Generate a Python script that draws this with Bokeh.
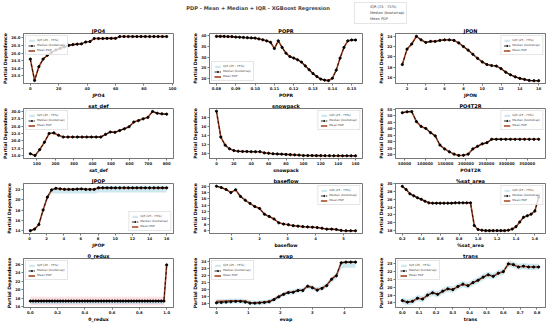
import numpy as np
from bokeh.plotting import figure
from bokeh.layouts import GridBox
from bokeh.models import (Legend, LegendItem, Label, Range1d, FixedTicker,
                          PrintfTickFormatter)
from bokeh.embed import file_html
from bokeh.resources import INLINE

FONT = "DejaVu Sans"
MEAN_COLOR = "#a3421f"
BLUE = "#add8e6"
PINK = "#f7bcc8"
FRAME = "#777777"

MAIN_TITLE = "PDP - Mean + Median + IQR - XGBoost Regression"
LEG_LABELS = ["IQR (25 - 75%)", "Median (bootstrap)", "Mean PDP"]

# ---------------- data ----------------
jpo4_x = np.linspace(0, 96, 33)
jpo4_mean = [24.6, 23.2, 24.1, 24.6, 24.85, 25.05, 25.2, 25.3, 25.4, 25.5, 25.55,
             25.58, 25.6, 25.72, 25.75, 25.95, 25.95, 25.95, 25.96, 25.96, 25.96,
             26.08, 26.08, 26.08, 26.08, 26.08, 26.08, 26.08, 26.08, 26.08, 26.08,
             26.08, 26.08]
jpo4_xticks = [0, 20, 40, 60, 80, 100]
jpo4_yticks = [23.0, 23.5, 24.0, 24.5, 25.0, 25.5, 26.0]

popr_x = np.linspace(0.080, 0.152, 37)
popr_mean = [39.7, 39.7, 39.7, 39.6, 39.6, 39.4, 39.3, 39.2, 39.1, 39.0, 38.9,
             38.5, 38.1, 37.6, 36.9, 34.0, 37.6, 34.5, 31.8, 30.2, 29.5, 28.7,
             27.6, 25.8, 24.0, 22.2, 20.8, 19.6, 19.1, 18.9, 20.0, 23.8, 29.5,
             34.5, 37.6, 38.0, 38.0]
popr_xticks = [0.08, 0.09, 0.10, 0.11, 0.12, 0.13, 0.14, 0.15]
popr_yticks = [20, 25, 30, 35, 40]

jpon_x = np.linspace(1.5, 16.0, 30)
jpon_mean = [18.5, 21.5, 22.5, 24.0, 23.3, 22.8, 23.0, 23.0, 23.2, 23.3, 23.3,
             23.2, 22.7, 22.0, 21.3, 20.5, 19.7, 19.0, 18.5, 18.3, 18.2, 17.7,
             17.0, 16.5, 16.1, 15.8, 15.6, 15.4, 15.35, 15.35]
jpon_xticks = [2, 4, 6, 8, 10, 12, 14, 16]
jpon_yticks = [14, 16, 18, 20, 22, 24]

satdef_x = np.linspace(65, 800, 30)
satdef_mean = [15.6, 15.0, 17.0, 19.5, 22.5, 22.7, 21.9, 21.3, 21.3, 21.3, 21.3,
               21.3, 21.3, 21.3, 21.3, 21.3, 22.2, 23.0, 22.9, 23.5, 24.1, 24.8,
               26.4, 26.9, 27.5, 28.0, 30.0, 29.4, 29.2, 29.1]
satdef_xticks = [100, 200, 300, 400, 500, 600, 700, 800]
satdef_yticks = [15.0, 17.5, 20.0, 22.5, 25.0, 27.5, 30.0]

snow_x = np.linspace(0, 160, 33)
snow_mean = [19.3, 13.6, 11.8, 11.0, 10.6, 10.45, 10.4, 10.4, 10.35, 10.35, 10.35,
             10.1, 10.0, 9.9, 9.85, 9.8, 9.75, 9.7, 9.65, 9.6, 9.5, 9.5, 9.5,
             9.48, 9.48, 9.47, 9.47, 9.46, 9.46, 9.45, 9.45, 9.45, 9.45]
snow_xticks = [0, 20, 40, 60, 80, 100, 120, 140, 160]
snow_yticks = [10, 12, 14, 16, 18, 20]

po4_x = np.linspace(44400, 378000, 30)
po4_mean = [52.3, 53.0, 53.2, 45.5, 41.8, 40.2, 37.0, 34.5, 27.5, 24.5, 22.3,
            20.5, 19.5, 19.6, 20.5, 24.5, 26.5, 28.4, 29.3, 31.9, 31.9, 31.9,
            31.9, 31.9, 31.9, 31.9, 31.9, 31.9, 31.9, 31.9]
po4_xticks = [50000, 100000, 150000, 200000, 250000, 300000, 350000]
po4_yticks = [20, 25, 30, 35, 40, 45, 50, 55]

jpop_x = np.linspace(0.1, 16.0, 33)
jpop_mean = [14.0, 14.3, 15.2, 18.0, 20.5, 21.9, 22.2, 22.1, 22.0, 22.0, 22.0,
             22.05, 22.1, 22.0, 22.0, 22.0, 22.3, 22.3, 22.3, 22.3, 22.3, 22.3,
             22.3, 22.3, 22.3, 22.3, 22.3, 22.3, 22.3, 22.3, 22.3, 22.3, 22.3]
jpop_iqr_lo = [13.9, 14.2, 15.0, 17.6, 20.0, 21.2, 21.2, 21.2, 21.2, 21.2, 21.2,
               21.2, 21.2, 21.2, 21.2, 21.2, 21.4, 21.4, 21.4, 21.4, 21.4, 21.4,
               21.4, 21.4, 21.4, 21.4, 21.4, 21.4, 21.4, 21.4, 21.4, 21.4, 21.4]
jpop_iqr_hi = [14.1, 14.4, 15.4, 18.4, 20.9, 22.2, 22.4, 22.3, 22.2, 22.2, 22.2,
               22.3, 22.3, 22.2, 22.2, 22.2, 22.7, 22.7, 22.7, 22.7, 22.7, 22.7,
               22.7, 22.7, 22.7, 22.7, 22.7, 22.7, 22.7, 22.7, 22.7, 22.7, 22.7]
jpop_xticks = [0, 2, 4, 6, 8, 10, 12, 14, 16]
jpop_yticks = [14, 16, 18, 20, 22]

base_x = np.linspace(0.46, 5.43, 30)
base_mean = [20.0, 19.6, 19.0, 18.0, 18.9, 16.8, 15.6, 14.6, 13.6, 13.0, 11.2,
             10.5, 9.7, 8.5, 8.1, 7.9, 7.6, 7.45, 7.3, 7.2, 7.1, 7.0, 6.8, 6.5,
             6.5, 6.4, 6.1, 6.0, 6.0, 6.0]
base_xticks = [1, 2, 3, 4, 5]
base_yticks = [6, 8, 10, 12, 14, 16, 18, 20]

sat_x = np.linspace(0.20, 1.64, 37)
sat_mean = [29.3, 28.5, 27.4, 26.9, 26.4, 26.0, 25.5, 25.1, 25.0, 25.0, 25.0,
            25.0, 25.0, 25.0, 25.1, 25.1, 25.1, 25.1, 25.1, 19.3, 18.3, 18.1,
            18.0, 18.0, 18.0, 18.0, 18.0, 18.0, 18.1, 18.4, 19.0, 20.2, 21.4,
            21.8, 22.2, 23.0, 26.5]
sat_xticks = [0.2, 0.4, 0.6, 0.8, 1.0, 1.2, 1.4, 1.6]
sat_yticks = [18, 20, 22, 24, 26, 28, 30]

redux_x = np.linspace(0.0, 1.0, 51)
redux_mean = [17.3] * 50 + [25.8]
redux_iqr_lo = [16.6] * 50 + [25.8]
redux_iqr_hi = [17.3] * 50 + [25.8]
redux_xticks = [0.0, 0.2, 0.4, 0.6, 0.8, 1.0]
redux_yticks = [16, 18, 20, 22, 24, 26]

evap_x = np.linspace(0.0, 4.35, 30)
evap_mean = [18.3, 18.3, 18.35, 18.4, 18.4, 18.4, 18.35, 18.15, 18.1, 18.15, 18.2,
             18.3, 18.6, 19.0, 19.35, 19.6, 19.65, 19.9, 19.9, 20.5, 20.3, 19.95,
             20.2, 20.6, 21.5, 22.0, 23.8, 23.9, 23.9, 23.9]
evap_median = [18.1, 18.15, 18.2, 18.25, 18.3, 18.3, 18.2, 18.05, 18.05, 18.1, 18.15,
               18.25, 18.55, 18.95, 19.3, 19.55, 19.6, 19.85, 19.85, 20.45, 20.25,
               19.9, 20.15, 20.55, 21.45, 21.95, 23.8, 23.9, 23.9, 23.9]
evap_iqr_lo = [17.9, 17.9, 17.95, 18.0, 18.0, 18.0, 17.95, 17.8, 17.75, 17.8, 17.85,
               17.95, 18.25, 18.65, 19.0, 19.25, 19.3, 19.55, 19.55, 20.1, 19.95,
               19.6, 19.85, 20.2, 21.0, 21.5, 23.0, 23.1, 23.1, 23.1]
evap_iqr_hi = [18.6, 18.6, 18.65, 18.7, 18.7, 18.7, 18.65, 18.45, 18.4, 18.45, 18.5,
               18.6, 18.9, 19.3, 19.65, 19.9, 19.95, 20.2, 20.2, 20.8, 20.6, 20.3,
               20.55, 20.95, 21.8, 22.3, 24.1, 24.1, 24.1, 24.1]
evap_xticks = [0, 1, 2, 3, 4]
evap_yticks = [17, 18, 19, 20, 21, 22, 23, 24]

trans_x = np.linspace(0.0, 0.81, 28)
trans_mean = [18.3, 18.1, 18.2, 18.6, 18.5, 19.0, 19.3, 19.1, 19.5, 19.8, 19.7,
              20.1, 20.4, 20.2, 20.6, 20.9, 21.3, 21.6, 21.4, 21.8, 22.0, 23.0,
              22.9, 22.6, 22.7, 22.6, 22.6, 22.6]
trans_xticks = [0.0, 0.1, 0.2, 0.3, 0.4, 0.5, 0.6, 0.7, 0.8]
trans_yticks = [18, 19, 20, 21, 22, 23]

# spread half-widths (pink) and IQR half-widths where the band is thin
spread = {"JPO4": 0.05, "POPR": 0.3, "JPON": 0.1, "sat_def": 0.25, "snowpack": 0.1,
          "PO4T2R": 0.6, "JPOP": 0.1, "baseflow": 0.15, "%sat_area": 0.15,
          "0_redux": 1.0, "evap": 0.1, "trans": 0.15}
iqr_half = {"JPO4": 0.04, "POPR": 0.25, "JPON": 0.08, "sat_def": 0.15, "snowpack": 0.08,
            "PO4T2R": 0.4, "baseflow": 0.12, "%sat_area": 0.12, "trans": 0.4}

ROW_H = [75, 75, 75, 74]
HH = 25                      # header height
W = [183, 183, 184]          # column widths (total 550)
BL = [22, 26, 29]            # left borders
BR = [10, 4, 5]              # right borders


def make_panel(name, x, mean, median, lo, hi, xticks, yticks, xfmt, yfmt, loc,
               width, height, bl, br):
    x = np.asarray(x, float)
    mean = np.asarray(mean, float)
    median = np.asarray(median, float)
    if lo is None:
        lo = mean - iqr_half[name]
        hi = mean + iqr_half[name]
    p = figure(width=width, height=height, output_backend="svg", toolbar_location=None,
               title=name, min_border_left=bl, min_border_right=br,
               min_border_top=4, min_border_bottom=6)
    p.title.text_font = FONT
    p.title.text_font_size = "5px"
    p.title.text_font_style = "bold"
    p.title.text_color = "black"
    p.title.align = "center"
    p.title.standoff = 0
    p.title.text_line_height = 1.0
    p.varea(x=x, y1=mean - spread[name], y2=mean + spread[name],
            fill_color=PINK, fill_alpha=0.45)
    r_iqr = p.varea(x=x, y1=np.asarray(lo, float), y2=np.asarray(hi, float),
                    fill_color=BLUE, fill_alpha=0.6)
    r_mean = p.line(x, mean, line_color=MEAN_COLOR, line_width=1.6)
    r_med = p.line(x, median, line_color="black", line_dash="3 2", line_width=0.8)
    r_medm = p.scatter(x, median, size=2.2, marker="circle", color="black")
    leg = Legend(items=[LegendItem(label=LEG_LABELS[0], renderers=[r_iqr]),
                        LegendItem(label=LEG_LABELS[1], renderers=[r_med, r_medm]),
                        LegendItem(label=LEG_LABELS[2], renderers=[r_mean])],
                 location=loc)
    leg.label_text_font = FONT
    leg.label_text_font_size = "2.9px"
    leg.label_text_line_height = 1.0
    leg.label_height = 3
    leg.glyph_height = 3
    leg.glyph_width = 7
    leg.spacing = 1
    leg.padding = 2
    leg.margin = 2
    leg.label_standoff = 2
    leg.border_line_color = "#cccccc"
    leg.border_line_width = 0.5
    leg.background_fill_alpha = 0.8
    p.add_layout(leg)
    p.xgrid.visible = False
    p.ygrid.visible = False
    p.outline_line_color = FRAME
    p.xaxis.ticker = FixedTicker(ticks=xticks, minor_ticks=[])
    p.yaxis.ticker = FixedTicker(ticks=yticks, minor_ticks=[])
    p.xaxis.formatter = PrintfTickFormatter(format=xfmt)
    p.yaxis.formatter = PrintfTickFormatter(format=yfmt)
    p.xaxis.axis_label = name
    p.yaxis.axis_label = "Partial Dependence"
    for ax in (p.xaxis[0], p.yaxis[0]):
        ax.axis_label_text_font = FONT
        ax.axis_label_text_font_size = "4.6px"
        ax.axis_label_text_font_style = "bold"
        ax.axis_label_text_color = "black"
        ax.axis_label_standoff = 0
        ax.axis_label_text_line_height = 1.0
        ax.major_label_text_font = FONT
        ax.major_label_text_font_size = "3.8px"
        ax.major_label_text_font_style = "bold"
        ax.major_label_text_color = "#222222"
        ax.major_label_text_line_height = 1.0
        ax.major_label_standoff = 1
        ax.major_tick_out = 2
        ax.major_tick_in = 0
        ax.axis_line_color = FRAME
        ax.major_tick_line_color = FRAME
    return p


specs = [
    ("JPO4", jpo4_x, jpo4_mean, jpo4_mean, None, None, jpo4_xticks, jpo4_yticks, "%d", "%.1f", "top_left"),
    ("POPR", popr_x, popr_mean, popr_mean, None, None, popr_xticks, popr_yticks, "%.2f", "%d", "bottom_left"),
    ("JPON", jpon_x, jpon_mean, jpon_mean, None, None, jpon_xticks, jpon_yticks, "%d", "%d", "top_right"),
    ("sat_def", satdef_x, satdef_mean, satdef_mean, None, None, satdef_xticks, satdef_yticks, "%d", "%.1f", "top_left"),
    ("snowpack", snow_x, snow_mean, snow_mean, None, None, snow_xticks, snow_yticks, "%d", "%d", "top_right"),
    ("PO4T2R", po4_x, po4_mean, po4_mean, None, None, po4_xticks, po4_yticks, "%d", "%d", "top_right"),
    ("JPOP", jpop_x, jpop_mean, jpop_mean, jpop_iqr_lo, jpop_iqr_hi, jpop_xticks, jpop_yticks, "%d", "%d", "bottom_right"),
    ("baseflow", base_x, base_mean, base_mean, None, None, base_xticks, base_yticks, "%d", "%d", "top_right"),
    ("%sat_area", sat_x, sat_mean, sat_mean, None, None, sat_xticks, sat_yticks, "%.1f", "%d", "top_right"),
    ("0_redux", redux_x, redux_mean, redux_mean, redux_iqr_lo, redux_iqr_hi, redux_xticks, redux_yticks, "%.1f", "%d", "top_left"),
    ("evap", evap_x, evap_mean, evap_median, evap_iqr_lo, evap_iqr_hi, evap_xticks, evap_yticks, "%d", "%d", "top_left"),
    ("trans", trans_x, trans_mean, trans_mean, None, None, trans_xticks, trans_yticks, "%.1f", "%d", "top_left"),
]

children = []
for i, s in enumerate(specs):
    c = i % 3
    r = i // 3
    children.append((make_panel(*s, width=W[c], height=ROW_H[r], bl=BL[c], br=BR[c]),
                     r + 1, c))

# header with main title and figure legend (frame aligned with the panel frames)
header = figure(width=sum(W), height=HH, output_backend="svg", toolbar_location=None,
                x_range=Range1d(BL[0], sum(W) - BR[2]), y_range=Range1d(0, HH),
                x_axis_type=None, y_axis_type=None,
                min_border_left=BL[0], min_border_right=BR[2],
                min_border_top=0, min_border_bottom=0)
header.outline_line_color = None
header.xgrid.visible = False
header.ygrid.visible = False
h_iqr = header.varea(x=[], y1=[], y2=[], fill_color=BLUE, fill_alpha=0.6)
h_mean = header.line(x=[], y=[], line_color=MEAN_COLOR, line_width=2)
h_med = header.line(x=[], y=[], line_color="black", line_dash="3 2", line_width=1)
h_medm = header.scatter(x=[], y=[], size=2.5, marker="circle", color="black")
hleg = Legend(items=[LegendItem(label=LEG_LABELS[0], renderers=[h_iqr]),
                     LegendItem(label=LEG_LABELS[1], renderers=[h_med, h_medm]),
                     LegendItem(label=LEG_LABELS[2], renderers=[h_mean])],
              location=(331, 1))
hleg.label_text_font = FONT
hleg.label_text_font_size = "3.6px"
hleg.label_text_line_height = 1.0
hleg.label_height = 4
hleg.glyph_height = 4
hleg.glyph_width = 10
hleg.spacing = 2
hleg.padding = 2
hleg.margin = 0
hleg.label_standoff = 3
hleg.border_line_color = "#cccccc"
hleg.border_line_width = 0.6
header.add_layout(hleg)
header.add_layout(Label(x=257, y=18, x_units="data", y_units="data",
                        text=MAIN_TITLE, text_font=FONT, text_font_size="5.1px",
                        text_font_style="bold", text_align="center",
                        text_baseline="middle"))

layout = GridBox(children=[(header, 0, 0, 1, 3)] + children, spacing=0)

open("out.html", "w").write(file_html(layout, INLINE))
